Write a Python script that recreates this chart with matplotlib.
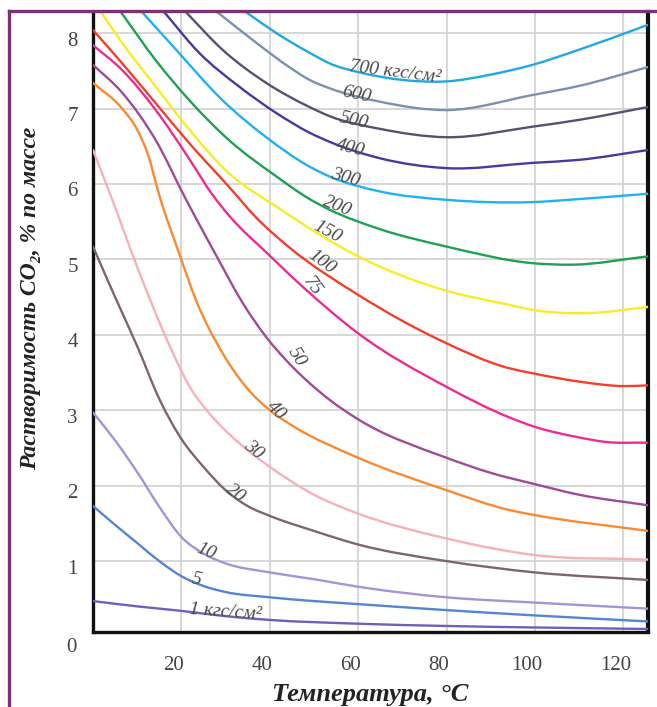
import numpy as np
import matplotlib.pyplot as plt
from matplotlib.lines import Line2D
from matplotlib.path import Path
from matplotlib.patches import PathPatch
from matplotlib.transforms import ScaledTranslation

plt.rcParams['font.family'] = ['Liberation Serif', 'DejaVu Serif']

# CO2 solubility in water, % by mass, vs temperature (°C) at various pressures (kgf/cm2)
pressures = ["1", "5", "10", "20", "30", "40", "50", "75", "100", "150", "200", "300", "400", "500", "600", "700"]

t_1 = [0, 10, 20, 30, 40, 60, 80, 100, 125.6]
s_1 = [0.47, 0.40, 0.34, 0.27, 0.22, 0.17, 0.14, 0.12, 0.10]

t_5 = [0, 5, 10, 15, 20, 25, 30, 40, 50, 60, 80, 100, 125.6]
s_5 = [1.73, 1.48, 1.24, 1.0, 0.8, 0.67, 0.59, 0.52, 0.47, 0.43, 0.35, 0.28, 0.2]

t_10 = [0, 5, 10, 15, 20, 25, 30, 40, 50, 60, 80, 100, 125.6]
s_10 = [2.97, 2.6, 2.18, 1.72, 1.32, 1.1, 0.97, 0.85, 0.76, 0.66, 0.52, 0.45, 0.37]

t_20 = [0, 5, 10, 15, 20, 25, 30, 35, 40, 50, 60, 80, 100, 125.6]
s_20 = [5.17, 4.5, 3.85, 3.15, 2.62, 2.25, 1.94, 1.73, 1.6, 1.4, 1.22, 1.0, 0.85, 0.75]

t_30 = [0, 4.3, 10, 17, 22, 26, 30, 35, 40, 50, 60, 80, 100, 125.6]
s_30 = [6.45, 5.8, 4.9, 3.9, 3.3, 2.98, 2.73, 2.47, 2.25, 1.88, 1.63, 1.3, 1.08, 1.02]

t_40 = [0, 6.6, 10, 12.5, 15, 19.5, 23.3, 29.3, 34.6, 40, 45, 60, 80, 94, 100, 125.6]
s_40 = [7.34, 7.0, 6.72, 6.38, 5.85, 5.08, 4.46, 3.76, 3.31, 3.0, 2.8, 2.37, 1.94, 1.68, 1.61, 1.4]

t_50 = [0, 6.6, 14.2, 21, 24, 27.9, 33.8, 39.2, 44.4, 49, 53.5, 60, 80, 90, 100, 110, 125.6]
s_50 = [7.58, 7.21, 6.58, 5.8, 5.47, 5.05, 4.43, 3.97, 3.62, 3.36, 3.14, 2.88, 2.37, 2.17, 2.02, 1.88, 1.74]

t_75 = [0, 6.6, 14.2, 21.8, 27, 30.8, 40, 47.4, 60, 80, 94, 100, 110, 116, 125.6]
s_75 = [7.84, 7.51, 6.98, 6.33, 5.86, 5.58, 5.05, 4.64, 4.02, 3.31, 2.91, 2.78, 2.64, 2.58, 2.57]

t_100 = [0, 6.6, 14.2, 21.8, 30.8, 37, 44.4, 60, 78.5, 94, 99.5, 110, 120, 125.6]
s_100 = [8.04, 7.6, 7.07, 6.54, 5.96, 5.55, 5.16, 4.53, 3.93, 3.56, 3.49, 3.38, 3.32, 3.33]

t_150 = [1.8, 6.6, 14.2, 21.8, 30.8, 41.5, 60, 79.6, 94, 99.5, 112.5, 125.6]
s_150 = [8.28, 7.87, 7.29, 6.72, 6.14, 5.70, 5.04, 4.59, 4.4, 4.33, 4.29, 4.37]

t_200 = [6.3, 14.2, 21.8, 30.8, 41.5, 49, 53.5, 65, 80, 99.5, 108.6, 125.6]
s_200 = [8.28, 7.64, 7.11, 6.58, 6.1, 5.8, 5.66, 5.4, 5.17, 4.95, 4.93, 5.04]

t_300 = [11.1, 18.8, 29.3, 39.2, 49, 53.5, 65, 80, 99.5, 110, 125.6]
s_300 = [8.28, 7.78, 7.11, 6.62, 6.23, 6.1, 5.9, 5.79, 5.76, 5.8, 5.87]

t_400 = [16.1, 24, 33.1, 41.5, 49, 53.5, 65, 80, 99.5, 110, 125.6]
s_400 = [8.28, 7.74, 7.29, 6.94, 6.68, 6.56, 6.34, 6.21, 6.28, 6.32, 6.45]

t_500 = [21, 29.3, 39.2, 49, 53.5, 65, 80, 99.5, 110, 125.6]
s_500 = [8.28, 7.78, 7.34, 7.02, 6.9, 6.73, 6.62, 6.76, 6.85, 7.02]

t_600 = [28.1, 37, 44.4, 49, 53.5, 65, 80, 99.5, 110, 125.6]
s_600 = [8.28, 7.87, 7.55, 7.38, 7.27, 7.09, 6.98, 7.18, 7.30, 7.55]

t_700 = [34.6, 41.5, 49, 53.5, 61, 70, 80, 90, 99.5, 110, 125.6]
s_700 = [8.28, 8.0, 7.74, 7.6, 7.47, 7.38, 7.36, 7.45, 7.58, 7.78, 8.11]

temps = [t_1, t_5, t_10, t_20, t_30, t_40, t_50, t_75, t_100, t_150, t_200, t_300, t_400, t_500, t_600, t_700]
sols = [s_1, s_5, s_10, s_20, s_30, s_40, s_50, s_75, s_100, s_150, s_200, s_300, s_400, s_500, s_600, s_700]

colors = ["#6f5fb8", "#5585d0", "#a394d8", "#7f6666", "#f7b0b8", "#f88a30", "#a04a98", "#ee2c90",
          "#f0402c", "#f8ec28", "#1fa052", "#1eb2ee", "#473a9a", "#585070", "#7990b0", "#22a8e0"]

# curve label placement (x, y, rotation)
label_pos = [(29.9, 0.33, -4), (23.4, 0.76, -12), (25.6, 1.13, -22), (32.2, 1.90, -38),
             (36.3, 2.47, -40), (41.5, 3.0, -45), (46.0, 3.71, -58), (49.7, 4.64, -54),
             (51.7, 4.96, -36), (53.1, 5.36, -28), (55.3, 5.70, -22), (57.1, 6.08, -16),
             (58.3, 6.47, -14), (59.0, 6.84, -12), (59.6, 7.18, -12), (68.3, 7.48, -7)]

y_ticks = [1, 2, 3, 4, 5, 6, 7, 8]
x_ticks = [20, 40, 60, 80, 100, 120]


def smooth_path(xs, ys):
    # cubic Hermite through the read points, drawn as Bezier segments
    x = np.asarray(xs, float)
    y = np.asarray(ys, float)
    h = np.diff(x)
    d = np.diff(y) / h
    m = np.empty_like(y)
    m[0], m[-1] = d[0], d[-1]
    m[1:-1] = (d[1:] * h[:-1] + d[:-1] * h[1:]) / (h[:-1] + h[1:])
    verts = [(x[0], y[0])]
    codes = [Path.MOVETO]
    for i in range(len(x) - 1):
        verts += [(x[i] + h[i] / 3, y[i] + m[i] * h[i] / 3),
                  (x[i + 1] - h[i] / 3, y[i + 1] - m[i + 1] * h[i] / 3),
                  (x[i + 1], y[i + 1])]
        codes += [Path.CURVE4] * 3
    return Path(verts, codes)


fig = plt.figure(figsize=(6.57, 7.07), dpi=100)
ax = fig.add_axes([93 / 657, 1 - 632 / 707, 555 / 657, 620 / 707])

for t, s, c in zip(temps, sols, colors):
    ax.add_patch(PathPatch(smooth_path(t, s), facecolor='none', edgecolor=c, lw=1.7,
                           capstyle='round', zorder=3))

for p, (lx, ly, rot) in zip(pressures, label_pos):
    txt = p
    if p in ("1", "700"):
        txt = p + " кгс/см²"
    ax.text(lx, ly, txt, rotation=rot, rotation_mode='anchor', ha='center', va='center',
            fontsize=14, style='italic', color='#4a4a4a', zorder=4)

ax.set_xlim(0, 125.6)
ax.set_ylim(0.06, 8.28)
ax.set_xticks(x_ticks)
ax.set_yticks(y_ticks)
ax.grid(True, color='#d4d4d4', lw=1.3, zorder=0)
ax.tick_params(length=0, labelsize=15, labelcolor='#444444')
ax.tick_params(axis='y', pad=11)
ax.tick_params(axis='x', pad=17)

for lab in ax.get_yticklabels():
    lab.set_transform(lab.get_transform() + ScaledTranslation(0, -0.055, fig.dpi_scale_trans))
for lab in ax.get_xticklabels():
    lab.set_transform(lab.get_transform() + ScaledTranslation(-0.08, 0, fig.dpi_scale_trans))

ax.spines['top'].set_visible(False)
ax.spines['left'].set_linewidth(2.4)
ax.spines['bottom'].set_linewidth(2.4)
ax.spines['right'].set_linewidth(3.0)
for sp in ('left', 'bottom', 'right'):
    ax.spines[sp].set_color('#111111')

fig.text(71 / 657, 1 - 648 / 707, "0", fontsize=15, color='#444444', ha='center', va='center')

ax.set_xlabel("Температура, °C", fontsize=19, fontweight='bold', style='italic', color='#222222', labelpad=6)
fig.text(31 / 657, 1 - 298 / 707, "Растворимость CO₂, % по массе", rotation=90, fontsize=17,
         fontweight='bold', style='italic', color='#222222', ha='center', va='center')

# purple frame around the figure
fig.add_artist(Line2D([8.5 / 657, 8.5 / 657], [0, 1 - 10.5 / 707], color='#7a3272', lw=2.4,
                      transform=fig.transFigure))
fig.add_artist(Line2D([8.5 / 657, 1], [1 - 10.5 / 707, 1 - 10.5 / 707], color='#7a3272', lw=2.4,
                      transform=fig.transFigure))

fig.savefig("out.png", dpi=100)
